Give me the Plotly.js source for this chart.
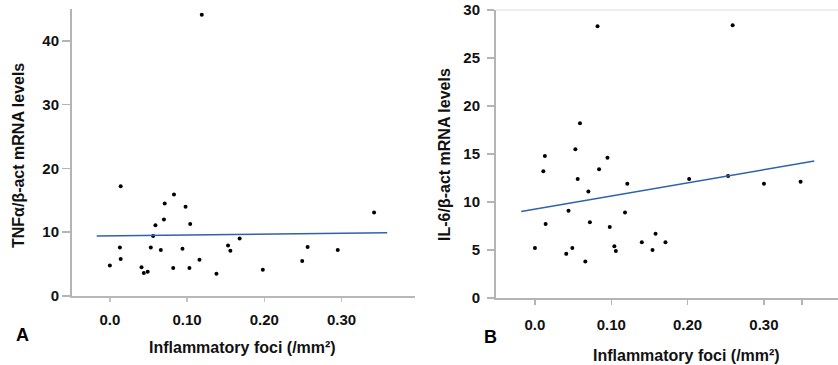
<!DOCTYPE html>
<html>
<head>
<meta charset="utf-8">
<script src="https://cdn.plot.ly/plotly-3.0.1.min.js"></script>
<style>html,body{margin:0;padding:0;background:#fff;}#chart{width:838px;height:365px;}</style>
</head>
<body>
<div id="chart"></div>
<script>
// Panel A: TNFα/β-act vs inflammatory foci
const tnfX = [0.000,0.014,0.013,0.014,0.041,0.044,0.049,0.053,0.056,0.059,0.066,0.070,0.071,0.082,0.083,0.094,0.098,0.103,0.104,0.116,0.138,0.153,0.156,0.168,0.198,0.249,0.256,0.295,0.342,0.119];
const tnfY = [4.8,17.2,7.6,5.8,4.5,3.6,3.8,7.6,9.4,11.1,7.2,12.0,14.5,4.4,15.9,7.4,14.0,4.4,11.3,5.7,3.5,7.9,7.1,9.0,4.1,5.5,7.7,7.2,13.1,44.1];
const tnfFitX = [-0.017, 0.359];
const tnfFitY = [9.4, 9.9];

// Panel B: IL-6/β-act vs inflammatory foci
const il6X = [0.082,0.259,0.059,0.053,0.013,0.095,0.011,0.084,0.056,0.202,0.253,0.121,0.300,0.348,0.070,0.044,0.118,0.014,0.072,0.098,0.158,0.140,0.171,0.104,0.106,0.154,0.000,0.049,0.041,0.066];
const il6Y = [28.3,28.4,18.2,15.5,14.8,14.6,13.2,13.4,12.4,12.4,12.7,11.9,11.9,12.1,11.1,9.1,8.9,7.7,7.9,7.4,6.7,5.8,5.8,5.4,4.9,5.0,5.2,5.2,4.6,3.8];
const il6FitX = [-0.018, 0.366];
const il6FitY = [9.0, 14.27];

const xTickVals = [0, 0.1, 0.2, 0.3];
const xTickText = ['0.0', '0.10', '0.20', '0.30'];
const tnfTickVals = [0, 10, 20, 30, 40];
const il6TickVals = [0, 5, 10, 15, 20, 25, 30];

const W = 838, H = 365;
const px = v => v / W;
const py = v => 1 - v / H;

const FONT = 'Liberation Sans, Arial, sans-serif';
const tickFont = {family: FONT, size: 15, color: '#111', weight: 'bold'};
const titleFont = {family: FONT, size: 16, color: '#111', weight: 'bold'};
const dotMarker = {color: '#000', size: 4};
const fitLine = {color: '#2f62ab', width: 1.5};

const traces = [
  {x: tnfX, y: tnfY, type: 'scatter', mode: 'markers', marker: dotMarker, xaxis: 'x', yaxis: 'y', hoverinfo: 'none'},
  {x: tnfFitX, y: tnfFitY, type: 'scatter', mode: 'lines', line: fitLine, xaxis: 'x', yaxis: 'y', hoverinfo: 'none'},
  {x: il6X, y: il6Y, type: 'scatter', mode: 'markers', marker: dotMarker, xaxis: 'x2', yaxis: 'y2', hoverinfo: 'none'},
  {x: il6FitX, y: il6FitY, type: 'scatter', mode: 'lines', line: fitLine, xaxis: 'x2', yaxis: 'y2', hoverinfo: 'none'}
];

const axisCommon = {
  showgrid: false, zeroline: false, showline: true,
  linecolor: '#b4b4b4', linewidth: 2, ticks: 'outside',
  tickcolor: '#b4b4b4', tickfont: tickFont
};

const layout = {
  width: W, height: H,
  margin: {l: 0, r: 0, t: 0, b: 0},
  paper_bgcolor: '#fff', plot_bgcolor: '#fff',
  showlegend: false,
  xaxis: Object.assign({}, axisCommon, {
    domain: [px(72), px(415)], range: [-0.049, 0.395],
    tickvals: xTickVals, ticktext: xTickText, ticklen: 4, tickwidth: 1.5,
    ticklabelstandoff: 5, anchor: 'y', linewidth: 1.5, tickcolor: '#c4c4c4', linecolor: '#b8b8b8'
  }),
  yaxis: Object.assign({}, axisCommon, {
    domain: [py(296), py(9)], range: [0, 45],
    tickvals: tnfTickVals, ticklen: 8, tickwidth: 1.5, anchor: 'x'
  }),
  xaxis2: Object.assign({}, axisCommon, {
    domain: [px(496), 1], range: [-0.051, 0.397],
    tickvals: xTickVals.concat([0.35]), ticktext: xTickText.concat(['']),
    ticklen: 5, tickwidth: 1.5, ticklabelstandoff: 7, anchor: 'y2'
  }),
  yaxis2: Object.assign({}, axisCommon, {
    domain: [py(298), py(10)], range: [0, 30],
    tickvals: il6TickVals, ticklen: 7, tickwidth: 1.5, ticklabelstandoff: 4, anchor: 'x2'
  }),
  shapes: [
    {type: 'line', xref: 'paper', yref: 'paper', x0: px(496), x1: 1, y0: py(10), y1: py(10),
     line: {color: '#dcdcdc', width: 1}}
  ],
  annotations: [
    {text: 'TNFα/β-act mRNA levels', xref: 'paper', yref: 'paper', x: px(18), y: py(156),
     textangle: -90, showarrow: false, xanchor: 'center', yanchor: 'middle', font: titleFont},
    {text: 'IL-6/β-act mRNA levels', xref: 'paper', yref: 'paper', x: px(445), y: py(155),
     textangle: -90, showarrow: false, xanchor: 'center', yanchor: 'middle', font: titleFont},
    {text: 'Inflammatory foci (/mm²)', xref: 'paper', yref: 'paper', x: px(242), y: py(347),
     showarrow: false, xanchor: 'center', yanchor: 'middle', font: titleFont},
    {text: 'Inflammatory foci (/mm²)', xref: 'paper', yref: 'paper', x: px(686), y: py(355),
     showarrow: false, xanchor: 'center', yanchor: 'middle', font: titleFont},
    {text: 'A', xref: 'paper', yref: 'paper', x: px(22), y: py(335),
     showarrow: false, xanchor: 'center', yanchor: 'middle',
     font: {family: FONT, size: 18, color: '#000', weight: 'bold'}},
    {text: 'B', xref: 'paper', yref: 'paper', x: px(490), y: py(337),
     showarrow: false, xanchor: 'center', yanchor: 'middle',
     font: {family: FONT, size: 18, color: '#000', weight: 'bold'}}
  ]
};

Plotly.newPlot('chart', traces, layout, {staticPlot: true, displayModeBar: false});
</script>
</body>
</html>
